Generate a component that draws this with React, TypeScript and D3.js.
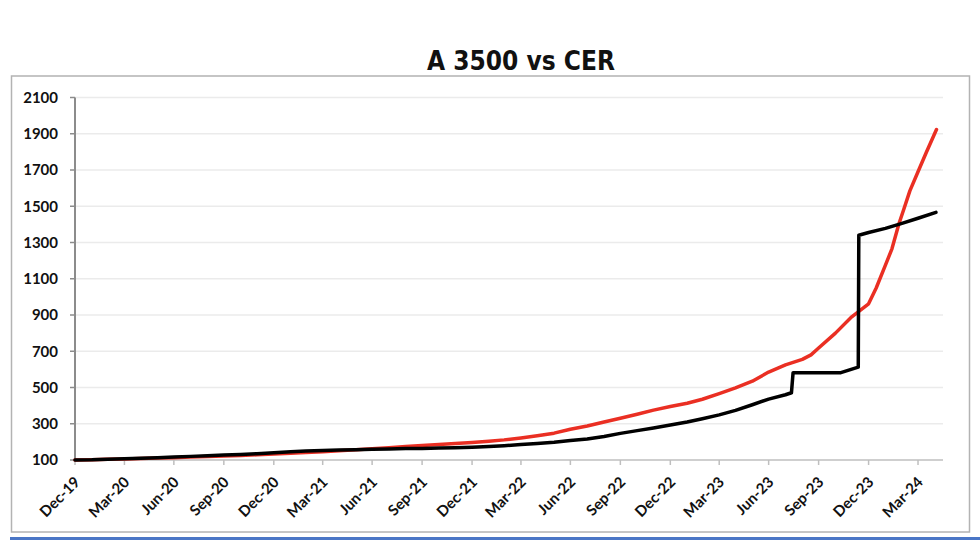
import React from 'react';
import * as d3 from 'd3';

const width = 980;
const height = 540;

// plot box
const plotLeft = 75;
const plotRight = 943;
const plotTop = 97.5;
const plotBottom = 460;

const parseDate = d3.timeParse('%Y-%m-%d');

// x axis (month-end ticks, every quarter)
const xTickDates = [
  '2019-12-31', '2020-03-31', '2020-06-30', '2020-09-30', '2020-12-31',
  '2021-03-31', '2021-06-30', '2021-09-30', '2021-12-31', '2022-03-31',
  '2022-06-30', '2022-09-30', '2022-12-31', '2023-03-31', '2023-06-30',
  '2023-09-30', '2023-12-31', '2024-03-31',
];
const xTickLabels = [
  'Dec-19', 'Mar-20', 'Jun-20', 'Sep-20', 'Dec-20', 'Mar-21', 'Jun-21', 'Sep-21',
  'Dec-21', 'Mar-22', 'Jun-22', 'Sep-22', 'Dec-22', 'Mar-23', 'Jun-23', 'Sep-23',
  'Dec-23', 'Mar-24',
];
const yTicks = [100, 300, 500, 700, 900, 1100, 1300, 1500, 1700, 1900, 2100];

// A 3500 indexed (black)
const a3500Dates = [
  '2019-12-31', '2020-01-31', '2020-02-29', '2020-03-31', '2020-04-30', '2020-05-31',
  '2020-06-30', '2020-07-31', '2020-08-31', '2020-09-30', '2020-10-31', '2020-11-30',
  '2020-12-31', '2021-01-31', '2021-02-28', '2021-03-31', '2021-04-30', '2021-05-31',
  '2021-06-30', '2021-07-31', '2021-08-31', '2021-09-30', '2021-10-31', '2021-11-30',
  '2021-12-31', '2022-01-31', '2022-02-28', '2022-03-31', '2022-04-30', '2022-05-31',
  '2022-06-30', '2022-07-31', '2022-08-31', '2022-09-30', '2022-10-31', '2022-11-30',
  '2022-12-31', '2023-01-31', '2023-02-28', '2023-03-31', '2023-04-30', '2023-05-31',
  '2023-06-30', '2023-07-31', '2023-08-11', '2023-08-14', '2023-11-10', '2023-12-12',
  '2023-12-13', '2023-12-31', '2024-01-31', '2024-02-29', '2024-03-31', '2024-05-03',
];
const a3500Values = [
  100, 101, 104, 107, 110, 113,
  117, 120, 123, 127, 131, 135,
  140, 145, 149, 153, 155, 157,
  159, 161, 163, 164, 166, 168,
  171, 175, 179, 185, 191, 198,
  207, 216, 230, 247, 262, 277,
  293, 310, 328, 349, 374, 405,
  436, 460, 471, 582, 582, 612,
  1340, 1355, 1378, 1404, 1434, 1466,
];

// CER indexed (red)
const cerDates = [
  '2019-12-31', '2020-01-31', '2020-02-29', '2020-03-31', '2020-04-30', '2020-05-31',
  '2020-06-30', '2020-07-31', '2020-08-31', '2020-09-30', '2020-10-31', '2020-11-30',
  '2020-12-31', '2021-01-31', '2021-02-28', '2021-03-31', '2021-04-30', '2021-05-31',
  '2021-06-30', '2021-07-31', '2021-08-31', '2021-09-30', '2021-10-31', '2021-11-30',
  '2021-12-31', '2022-01-31', '2022-02-28', '2022-03-31', '2022-04-30', '2022-05-31',
  '2022-06-30', '2022-07-31', '2022-08-31', '2022-09-30', '2022-10-31', '2022-11-30',
  '2022-12-31', '2023-01-31', '2023-02-28', '2023-03-31', '2023-04-30', '2023-05-31',
  '2023-06-30', '2023-07-31', '2023-08-31', '2023-09-16', '2023-09-30', '2023-10-31',
  '2023-11-30', '2023-12-31', '2024-01-14', '2024-01-31', '2024-02-12', '2024-02-25',
  '2024-03-05', '2024-03-16', '2024-03-31', '2024-04-15', '2024-05-04',
];
const cerValues = [
  100, 102, 104, 106, 108, 111,
  113, 116, 119, 122, 125, 129,
  133, 137, 141, 146, 151, 157,
  162, 168, 175, 180, 186, 191,
  197, 204, 211, 222, 234, 248,
  270, 288, 310, 330, 352, 375,
  395, 413, 435, 466, 498, 535,
  585, 625, 655, 680, 718, 800,
  890, 962, 1049, 1175, 1265, 1405,
  1485, 1585, 1690, 1795, 1923,
];

const labelFont = "Lato, 'Liberation Sans', sans-serif";

export default function App() {
  const x = d3.scaleTime()
    .domain([parseDate('2019-12-31'), parseDate('2024-05-16')])
    .range([plotLeft, plotRight]);
  const y = d3.scaleLinear().domain([100, 2100]).range([plotBottom, plotTop]);

  const line = d3.line<[Date, number]>()
    .x(d => x(d[0]))
    .y(d => y(d[1]));

  const a3500 = a3500Dates.map((d, i) => [parseDate(d), a3500Values[i]] as [Date, number]);
  const cer = cerDates.map((d, i) => [parseDate(d), cerValues[i]] as [Date, number]);

  return (
    <svg width={width} height={height}
      style={{ position: 'absolute', left: 0, top: 0, background: '#fff' }}>
      {/* chart frame */}
      <rect x={11.5} y={76} width={958} height={456} fill="none" stroke="#b3b3b3" strokeWidth={1.5} />
      <rect x={10} y={537} width={970} height={3} fill="#4a76c6" />

      <text x={521} y={69.5} textAnchor="middle" fontSize={26} fontWeight="bold"
        fontFamily="'DejaVu Sans Condensed', 'DejaVu Sans', sans-serif" fill="#111">
        A 3500 vs CER
      </text>

      {/* gridlines */}
      {yTicks.slice(1).map(t => (
        <line key={t} x1={plotLeft} x2={plotRight} y1={y(t)} y2={y(t)} stroke="#ebebeb" strokeWidth={1.5} />
      ))}

      {/* x axis */}
      <line x1={plotLeft} x2={plotRight} y1={plotBottom} y2={plotBottom} stroke="#bfbfbf" strokeWidth={1.5} />
      {xTickDates.map((d, i) => {
        const px = x(parseDate(d));
        return (
          <g key={d}>
            <line x1={px} x2={px} y1={plotBottom} y2={plotBottom + 5} stroke="#bfbfbf" strokeWidth={1.5} />
            <text transform={`translate(${px + 6},${plotBottom + 23}) rotate(-45)`}
              textAnchor="end" fontSize={15} fontWeight="bold" fontFamily={labelFont} fill="#111">
              {xTickLabels[i]}
            </text>
          </g>
        );
      })}

      {/* y axis */}
      <line x1={plotLeft} x2={plotLeft} y1={plotTop} y2={plotBottom} stroke="#8c8c8c" strokeWidth={2} />
      {yTicks.map(t => (
        <g key={t}>
          <line x1={plotLeft - 5} x2={plotLeft} y1={y(t)} y2={y(t)} stroke="#8c8c8c" strokeWidth={1.5} />
          <text x={58} y={y(t)} dy="0.35em" textAnchor="end" fontSize={15} fontWeight="bold"
            fontFamily={labelFont} fill="#111">
            {t}
          </text>
        </g>
      ))}

      {/* series */}
      <path d={line(cer) || ''} fill="none" stroke="#ea2f23" strokeWidth={3.5} strokeLinejoin="round" strokeLinecap="round" />
      <path d={line(a3500) || ''} fill="none" stroke="#000" strokeWidth={3.5} strokeLinejoin="round" strokeLinecap="round" />
    </svg>
  );
}
